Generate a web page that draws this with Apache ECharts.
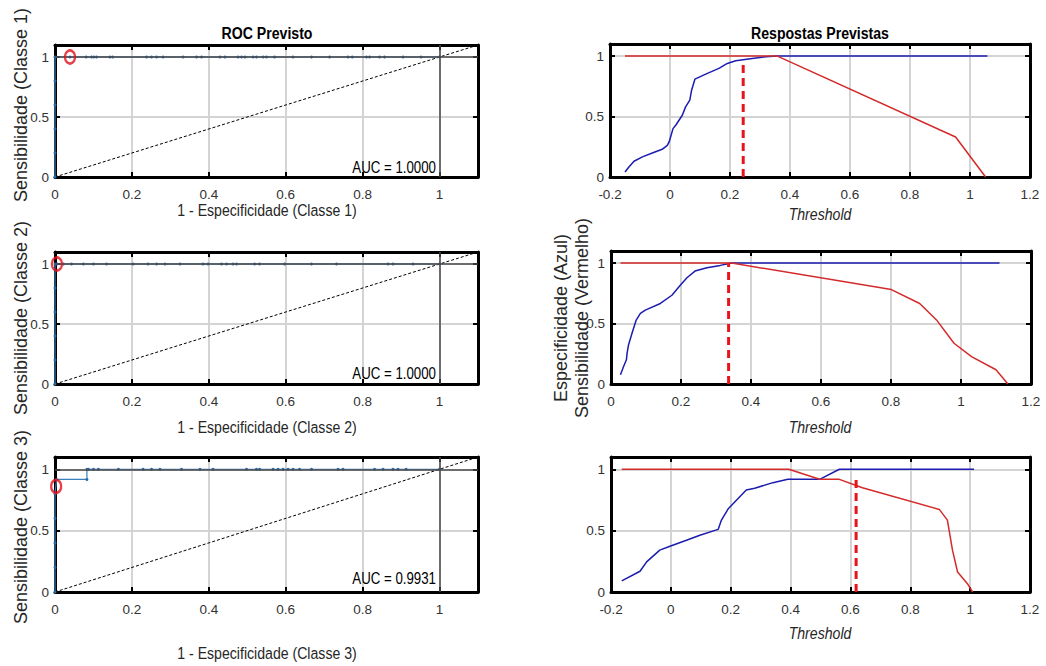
<!DOCTYPE html>
<html><head><meta charset="utf-8">
<script src="https://cdn.jsdelivr.net/npm/echarts@6/dist/echarts.min.js"></script>
<style>html,body{margin:0;padding:0;background:#fff}#c{width:1046px;height:666px}</style>
</head><body><div id="c"></div>
<script>
// ---------- DATA ----------
const rocXTicks = [0, 0.2, 0.4, 0.6, 0.8, 1];
const thrXTicksA = [-0.2, 0, 0.2, 0.4, 0.6, 0.8, 1, 1.2];
const thrXTicksB = [0, 0.2, 0.4, 0.6, 0.8, 1, 1.2];
const yTicks = [0, 0.5, 1];

const diagX = [0, 1.1];
const diagY = [0, 1.1];

// ROC Classe 1
const roc1X = [0, 0, 0, 0, 0, 0, 0.039, 0.081, 0.095, 0.101, 0.108, 0.143, 0.150, 0.238, 0.251, 0.264, 0.281, 0.333, 0.368, 0.381, 0.429, 0.442, 0.476, 0.485, 0.494, 0.515, 0.524, 0.541, 0.550, 0.571, 0.619, 0.667, 0.714, 0.762, 0.773, 0.810, 0.818, 0.844, 0.857, 0.905, 0.952, 1];
const roc1Y = [0, 0.2, 0.4, 0.6, 0.8, 1, 1, 1, 1, 1, 1, 1, 1, 1, 1, 1, 1, 1, 1, 1, 1, 1, 1, 1, 1, 1, 1, 1, 1, 1, 1, 1, 1, 1, 1, 1, 1, 1, 1, 1, 1, 1];
// ROC Classe 2
const roc2X = [0, 0, 0, 0, 0, 0, 0.005, 0.022, 0.043, 0.074, 0.100, 0.134, 0.203, 0.242, 0.264, 0.286, 0.325, 0.385, 0.398, 0.433, 0.446, 0.463, 0.472, 0.519, 0.532, 0.597, 0.667, 0.732, 0.866, 0.879, 0.931, 1];
const roc2Y = [0, 0.2, 0.4, 0.6, 0.8, 1, 1, 1, 1, 1, 1, 1, 1, 1, 1, 1, 1, 1, 1, 1, 1, 1, 1, 1, 1, 1, 1, 1, 1, 1, 1, 1];
// ROC Classe 3
const roc3X = [0, 0, 0, 0, 0, 0.004, 0.083, 0.083, 0.087, 0.100, 0.113, 0.165, 0.229, 0.251, 0.273, 0.329, 0.377, 0.411, 0.498, 0.524, 0.532, 0.567, 0.580, 0.593, 0.606, 0.619, 0.636, 0.667, 0.736, 0.749, 0.831, 0.853, 0.879, 0.892, 0.913, 1];
const roc3Y = [0, 0.2, 0.4, 0.6, 0.8, 0.917, 0.917, 1, 1, 1, 1, 1, 1, 1, 1, 1, 1, 1, 1, 1, 1, 1, 1, 1, 1, 1, 1, 1, 1, 1, 1, 1, 1, 1, 1, 1];

// Operating points (red circles)
const opX = [0.039, 0.005, 0.003];
const opY = [1, 1, 0.86];
const aucText = ['AUC = 1.0000', 'AUC = 1.0000', 'AUC = 0.9931'];

// Respostas previstas, Classe 1
const thr1SpecX = [-0.15, -0.137, -0.12, -0.092, -0.059, -0.026, -0.009, -0.003, 0.002, 0.01, 0.019, 0.041, 0.052, 0.066, 0.072, 0.083, 0.119, 0.163, 0.191, 0.219, 0.274, 0.319, 0.358, 1.058];
const thr1SpecY = [0.041, 0.083, 0.13, 0.166, 0.199, 0.229, 0.262, 0.29, 0.331, 0.4, 0.428, 0.511, 0.58, 0.635, 0.718, 0.809, 0.851, 0.898, 0.939, 0.961, 0.981, 0.994, 1, 1];
const thr1SensX = [-0.15, 0.358, 0.952, 1.052];
const thr1SensY = [1, 1, 0.331, 0];
const cut1X = [0.244, 0.244];
const cut1Y = [0, 0.955];

// Classe 2
const thr2SpecX = [0.027, 0.036, 0.044, 0.046, 0.05, 0.06, 0.072, 0.084, 0.098, 0.141, 0.174, 0.198, 0.217, 0.24, 0.274, 0.312, 0.345, 1.11];
const thr2SpecY = [0.077, 0.145, 0.2, 0.255, 0.323, 0.419, 0.529, 0.584, 0.611, 0.666, 0.734, 0.816, 0.879, 0.934, 0.962, 0.981, 1, 1];
const thr2SensX = [0.027, 0.345, 0.801, 0.882, 0.93, 0.98, 1.03, 1.10, 1.134];
const thr2SensY = [1, 1, 0.781, 0.666, 0.53, 0.337, 0.227, 0.118, 0];
const cut2X = [0.336, 0.336];
const cut2Y = [0, 1];

// Classe 3
const thr3SpecX = [-0.164, -0.103, -0.081, -0.037, -0.003, 0.052, 0.097, 0.158, 0.169, 0.191, 0.252, 0.28, 0.341, 0.391, 0.497, 0.563, 1.013];
const thr3SpecY = [0.09, 0.169, 0.245, 0.341, 0.373, 0.422, 0.463, 0.51, 0.586, 0.676, 0.831, 0.845, 0.891, 0.918, 0.918, 1, 1];
const thr3SensX = [-0.164, 0.394, 0.497, 0.563, 0.64, 0.897, 0.924, 0.941, 0.958, 0.991, 1.008];
const thr3SensY = [1, 1, 0.918, 0.918, 0.85, 0.673, 0.586, 0.341, 0.163, 0.068, 0];
const cut3X = [0.619, 0.619];
const cut3Y = [0, 0.926];

// ---------- BUILD ----------
const zip = (a, b) => a.map((v, i) => [v, b[i]]);
const FR = "'Liberation Sans', Arial, sans-serif";
const grids = [
  {left: 55, top: 45, width: 423, height: 132},
  {left: 55, top: 252, width: 423, height: 132},
  {left: 55, top: 457, width: 423, height: 135},
  {left: 610, top: 44, width: 420, height: 133},
  {left: 611, top: 251, width: 420, height: 133},
  {left: 611, top: 457, width: 419, height: 135}
];
const xCfg = [
  {min: 0, max: 1.1, ticks: rocXTicks},
  {min: 0, max: 1.1, ticks: rocXTicks},
  {min: 0, max: 1.1, ticks: rocXTicks},
  {min: -0.2, max: 1.2, ticks: thrXTicksA},
  {min: 0, max: 1.2, ticks: thrXTicksB},
  {min: -0.2, max: 1.2, ticks: thrXTicksA}
];
const inList = (v, list) => list.some(t => Math.abs(t - v) < 1e-6);
const fmt = v => String(Math.round(v * 10) / 10);
const xAxes = [], yAxes = [];
grids.forEach((g, i) => {
  const c = xCfg[i];
  const tickStyle = {show: true, inside: true, length: 5, lineStyle: {color: '#000', width: 2}};
  const lineStyle = {show: true, onZero: false, lineStyle: {color: '#000', width: 3}};
  xAxes.push({type: 'value', gridIndex: i, position: 'bottom', min: c.min, max: c.max, interval: 0.2,
    axisLine: lineStyle, axisTick: tickStyle,
    axisLabel: {margin: 10, fontFamily: FR, fontSize: 13.5, color: '#333',
      formatter: v => inList(v, c.ticks) ? fmt(v) : ''},
    splitLine: {show: true, lineStyle: {color: '#d4d4d4', width: 2}}});
  xAxes.push({type: 'value', gridIndex: i, position: 'top', min: c.min, max: c.max, interval: 0.2,
    axisLine: lineStyle, axisTick: tickStyle, axisLabel: {show: false}, splitLine: {show: false}});
  yAxes.push({type: 'value', gridIndex: i, position: 'left', min: 0, max: 1.1, interval: 0.5,
    axisLine: lineStyle, axisTick: tickStyle,
    axisLabel: {margin: 6, fontFamily: FR, fontSize: 13.5, color: '#333',
      formatter: v => inList(v, yTicks) ? fmt(v) : ''},
    splitLine: {show: true, lineStyle: {color: '#d4d4d4', width: 2}}});
  yAxes.push({type: 'value', gridIndex: i, position: 'right', min: 0, max: 1.1, interval: 0.5,
    axisLine: lineStyle, axisTick: tickStyle, axisLabel: {show: false}, splitLine: {show: false}});
});

const series = [];
const ax = i => ({xAxisIndex: 2 * i, yAxisIndex: 2 * i});
const rocs = [[roc1X, roc1Y], [roc2X, roc2Y], [roc3X, roc3Y]];
rocs.forEach((r, i) => {
  series.push(Object.assign({type: 'line', data: zip(diagX, diagY), symbol: 'none', silent: true,
    lineStyle: {color: '#000', width: 1, type: [3, 2]}, z: 3,
    markLine: {silent: true, symbol: 'none', label: {show: false},
      lineStyle: {color: '#4a4a4a', width: 1.5, type: 'solid'},
      data: [{xAxis: 1}, {yAxis: 1}]}}, ax(i)));
  series.push(Object.assign({type: 'line', data: zip(r[0], r[1]), symbol: 'circle', symbolSize: 3,
    showAllSymbol: true, itemStyle: {color: '#2a6aa8'}, lineStyle: {color: '#3a80bd', width: 1.2}, z: 4}, ax(i)));
  series.push(Object.assign({type: 'scatter', data: [[opX[i], opY[i]]], symbol: 'circle', symbolSize: [10, 13],
    itemStyle: {color: 'rgba(0,0,0,0)', borderColor: '#e0101a', borderWidth: 2.5}, z: 6}, ax(i)));
});
const thr = [
  [thr1SpecX, thr1SpecY, thr1SensX, thr1SensY, cut1X, cut1Y],
  [thr2SpecX, thr2SpecY, thr2SensX, thr2SensY, cut2X, cut2Y],
  [thr3SpecX, thr3SpecY, thr3SensX, thr3SensY, cut3X, cut3Y]
];
thr.forEach((t, k) => {
  const i = k + 3;
  series.push(Object.assign({type: 'line', data: zip(t[0], t[1]), symbol: 'none',
    lineStyle: {color: '#1c1cb0', width: 1.5}, z: 4}, ax(i)));
  series.push(Object.assign({type: 'line', data: zip(t[2], t[3]), symbol: 'none',
    lineStyle: {color: '#d42a2a', width: 1.5}, z: 5}, ax(i)));
  series.push(Object.assign({type: 'line', data: zip(t[4], t[5]), symbol: 'none',
    lineStyle: {color: '#e8141c', width: 3, type: [8, 5]}, z: 6}, ax(i)));
});

// horizontal texts: regular face, horizontally condensed to match the reference's narrow glyphs
const SX = 0.83;
const txt = (x, y, s, o) => ({type: 'text', x: x, y: y, scaleX: SX, z: 100, style: Object.assign({text: s, fill: '#262626',
  font: '17px ' + FR, textAlign: 'center', textVerticalAlign: 'middle'}, o || {})});
const rtxt = (x, y, s) => ({type: 'text', x: x, y: y, rotation: Math.PI / 2, z: 100,
  style: {text: s, fill: '#262626', font: '18px ' + FR, textAlign: 'center', textVerticalAlign: 'middle'}});
const graphic = [
  txt(267, 33, 'ROC Previsto', {font: 'bold 17px ' + FR, fill: '#000'}),
  txt(820, 33, 'Respostas Previstas', {font: 'bold 17px ' + FR, fill: '#000'}),
  txt(267, 210, '1 - Especificidade (Classe 1)'),
  txt(267, 427, '1 - Especificidade (Classe 2)'),
  txt(267, 653, '1 - Especificidade (Classe 3)'),
  txt(820, 214, 'Threshold', {font: 'italic 17px ' + FR}),
  txt(820, 427, 'Threshold', {font: 'italic 17px ' + FR}),
  txt(820, 633, 'Threshold', {font: 'italic 17px ' + FR}),
  rtxt(21, 105, 'Sensibilidade (Classe 1)'),
  rtxt(21, 318, 'Sensibilidade (Classe 2)'),
  rtxt(21, 527, 'Sensibilidade (Classe 3)'),
  rtxt(561, 318, 'Especificidade (Azul)'),
  rtxt(582, 318, 'Sensibilidade (Vermelho)'),
  txt(436, 168, aucText[0], {textAlign: 'right', font: '16px ' + FR, fill: '#000'}),
  txt(436, 374, aucText[1], {textAlign: 'right', font: '16px ' + FR, fill: '#000'}),
  txt(436, 579, aucText[2], {textAlign: 'right', font: '16px ' + FR, fill: '#000'})
];

const chart = echarts.init(document.getElementById('c'), null, {renderer: 'svg'});
chart.setOption({
  animation: false,
  backgroundColor: '#fff',
  grid: grids.map(g => Object.assign({containLabel: false}, g)),
  xAxis: xAxes,
  yAxis: yAxes,
  series: series,
  graphic: graphic
});
</script></body></html>
